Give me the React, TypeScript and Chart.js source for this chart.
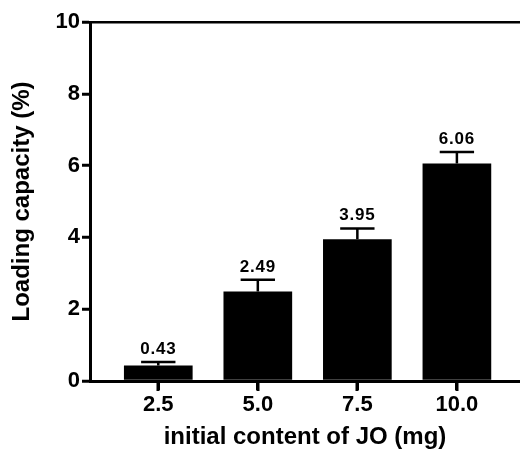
import React, { useEffect, useRef } from "react";
import { Chart, registerables } from "chart.js";

Chart.register(...registerables);

const categories = ["2.5", "5.0", "7.5", "10.0"];
const loadingValues = [0.43, 2.49, 3.95, 6.06];
const errorValues = [0.1, 0.33, 0.3, 0.32];
const valueLabels = ["0.43", "2.49", "3.95", "6.06"];
const yTicks = [0, 2, 4, 6, 8, 10];

const FONT = "'Liberation Sans', Arial, sans-serif";

const errorBarPlugin = {
  id: "errorBars",
  afterDraw(chart: any) {
    const { ctx } = chart;
    const yScale = chart.scales.y;
    const xScale = chart.scales.x;
    const meta = chart.getDatasetMeta(0);
    ctx.save();
    ctx.fillStyle = "#000";
    const base = Math.round(yScale.getPixelForValue(0));
    categories.forEach((_, i) => {
      const px = Math.round(xScale.getPixelForValue(i + 1));
      ctx.fillRect(px - 1.5, base, 3, 10);
    });
    meta.data.forEach((bar: any, i: number) => {
      const x = bar.x;
      const topY = yScale.getPixelForValue(loadingValues[i] + errorValues[i]);
      const capHalf = bar.width * 0.25;
      ctx.strokeStyle = "#000";
      ctx.lineWidth = 2.5;
      ctx.beginPath();
      ctx.moveTo(x, bar.y);
      ctx.lineTo(x, topY);
      ctx.moveTo(x - capHalf, topY);
      ctx.lineTo(x + capHalf, topY);
      ctx.stroke();
      ctx.fillStyle = "#000";
      ctx.font = `bold 17px ${FONT}`;
      try {
        (ctx as any).letterSpacing = "0.8px";
      } catch (e) {}
      ctx.textAlign = "center";
      ctx.textBaseline = "alphabetic";
      ctx.fillText(valueLabels[i], x, topY - 8);
    });
    ctx.restore();
  },
};

export default function App() {
  const canvasRef = useRef<HTMLCanvasElement | null>(null);

  useEffect(() => {
    document.body.style.margin = "0";
    const canvas = canvasRef.current;
    if (!canvas) return;
    const chart = new Chart(canvas, {
      type: "bar",
      data: {
        datasets: [
          {
            data: loadingValues.map((v, i) => ({ x: i + 1, y: v })),
            backgroundColor: "#000",
            borderColor: "#000",
            borderWidth: 0,
            barPercentage: 0.69,
            categoryPercentage: 1,
          },
        ],
      },
      options: {
        animation: false,
        responsive: false,
        layout: { padding: { top: 22, left: 0, right: 0, bottom: 0 } },
        plugins: {
          legend: { display: false },
          tooltip: { enabled: false },
        },
        scales: {
          x: {
            type: "linear",
            min: 0.314,
            max: 4.634,
            offset: false,
            afterBuildTicks: (scale: any) => {
              scale.ticks = categories.map((_, i) => ({ value: i + 1 }));
            },
            afterFit: (scale: any) => {
              scale.height = 68;
            },
            ticks: {
              autoSkip: false,
              maxRotation: 0,
              padding: 2,
              color: "#000",
              font: { family: FONT, size: 22, weight: "bold", lineHeight: 1.2 },
              callback: (v: any) => categories[Math.round(Number(v)) - 1] ?? "",
            },
            grid: {
              display: true,
              offset: false,
              drawOnChartArea: false,
              drawTicks: true,
              tickLength: 9,
              tickColor: "#000",
              tickWidth: 3,
              color: "#000",
            },
            border: { display: true, color: "#000", width: 3 },
            title: {
              display: true,
              text: "initial content of JO (mg)",
              color: "#000",
              font: { family: FONT, size: 24, weight: "bold", lineHeight: 1 },
              padding: { top: 0, bottom: 0 },
            },
          },
          y: {
            type: "linear",
            min: 0,
            max: 10,
            afterBuildTicks: (scale: any) => {
              scale.ticks = yTicks.map((v) => ({ value: v }));
            },
            afterFit: (scale: any) => {
              scale.width = 90;
            },
            ticks: {
              padding: 2,
              color: "#000",
              font: { family: FONT, size: 22, weight: "bold" },
              callback: (v: any) => String(v),
            },
            grid: {
              display: true,
              offset: false,
              drawOnChartArea: true,
              drawTicks: true,
              tickLength: 8,
              tickColor: "#000",
              tickWidth: 3,
              lineWidth: 2.5,
              color: (c: any) => (c.tick && c.tick.value === 10 ? "#000" : "rgba(0,0,0,0)"),
            },
            border: { display: true, color: "#000", width: 3 },
            title: {
              display: true,
              text: "Loading capacity (%)",
              color: "#000",
              font: { family: FONT, size: 24, weight: "bold", lineHeight: 1.2 },
              padding: { top: 8, bottom: 0 },
            },
          },
        },
      } as any,
      plugins: [errorBarPlugin],
    });
    return () => chart.destroy();
  }, []);

  return (
    <div style={{ width: 520, height: 449, background: "#fff" }}>
      <canvas ref={canvasRef} width={520} height={449} style={{ display: "block" }} />
    </div>
  );
}
